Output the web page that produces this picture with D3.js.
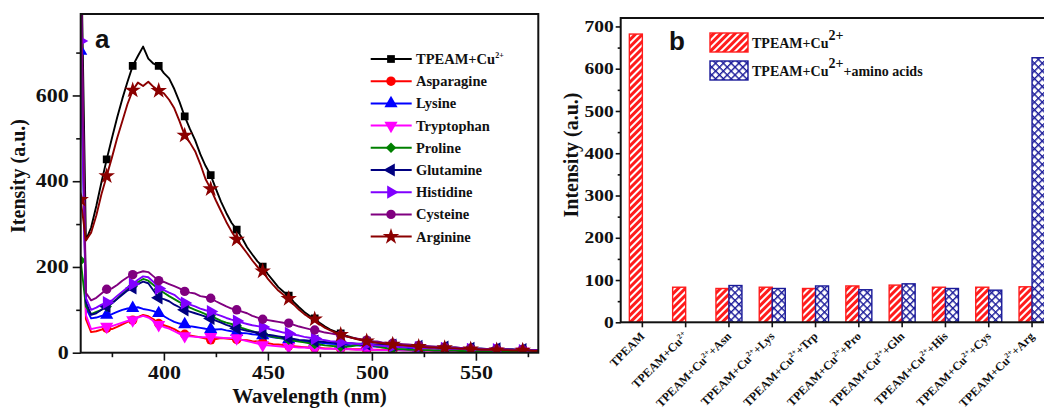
<!DOCTYPE html>
<html><head><meta charset="utf-8">
<script src="https://cdn.jsdelivr.net/npm/d3@7"></script>
<style>body{margin:0;background:#fff}svg{display:block}</style>
</head><body>
<svg id="chart" width="1044" height="412"></svg>
<script>
// ---------------- DATA: panel a (emission spectra) ----------------
const wavelengths = [360,362.5,365,367.5,370,372.5,375,377.5,380,382.5,
385,387.5,390,392.5,395,397.5,400,402.5,405,407.5,
410,412.5,415,417.5,420,422.5,425,427.5,430,432.5,
435,437.5,440,442.5,445,447.5,450,452.5,455,457.5,
460,462.5,465,467.5,470,472.5,475,477.5,480,482.5,
485,487.5,490,492.5,495,497.5,500,502.5,505,507.5,
510,512.5,515,517.5,520,522.5,525,527.5,530,532.5,
535,537.5,540,542.5,545,547.5,550,552.5,555,557.5,
560,562.5,565,567.5,570,572.5,575,577.5,580];
const tpeamCu = [1000,262,292,342,398,451,500,548,592,632,
669,692,714,686,674,669,652,640,615,585,
551,522,496,463,436,414,382,352,326,303,
287,268,246,229,213,201,183,168,153,142,
133,118,106,95,86,80,69,61,54,49,
45,40,36,33,30,28,26,24,22,21,
20,19,18,17,16,15,14,13,13,12,
12,11,10,10,9,9,8,8,8,7,
7,7,6,6,6,6,5,5,5];
const asparagine = [900,78,48,50,54,57,55,60,66,72,
76,83,88,85,78,68,64,60,55,48,
43,40,38,36,33,30,32,34,33,32,
31,30,29,27,26,24,22,20,19,18,
16,15,14,13,12,11,11,10,10,9,
9,9,8,8,8,7,7,7,7,6,
6,6,6,6,5,5,5,5,5,5,
4,4,4,4,4,4,4,4,3,3,
3,3,3,3,3,3,3,3,3];
const lysine = [704,105,80,82,86,88,90,95,100,103,
104,106,102,100,97,92,85,78,72,68,
66,62,60,58,56,55,54,55,52,50,
48,46,45,43,42,40,38,36,34,33,
31,30,28,27,25,24,23,22,21,20,
19,18,17,17,16,15,15,14,14,13,
13,12,12,11,11,11,10,10,10,9,
9,9,8,8,8,8,7,7,7,7,
6,6,6,6,6,5,5,5,5];
const tryptophan = [850,88,55,58,60,61,62,66,70,74,
76,82,86,82,74,65,60,56,50,44,
39,38,37,36,36,37,36,35,34,34,
34,30,27,24,21,18,17,16,15,14,
14,13,12,12,11,10,10,9,9,9,
8,8,8,7,7,7,7,6,6,6,
6,6,5,5,5,5,5,5,4,4,
4,4,4,4,4,4,4,3,3,3,
3,3,3,3,3,3,3,3,3];
const proline = [215,108,90,95,100,108,116,126,138,148,
155,165,172,168,158,148,140,132,125,118,
112,105,100,95,90,86,80,74,70,67,
63,58,54,50,47,44,40,37,35,33,
30,28,26,24,22,20,19,17,16,15,
14,14,15,17,19,20,18,15,12,10,
9,8,8,7,7,6,6,6,5,5,
5,5,5,4,4,4,4,4,4,4,
3,3,3,3,3,3,3,3,3];
const glutamine = [900,118,88,92,100,108,115,125,135,145,
151,160,166,162,145,128,125,120,112,106,
100,96,92,88,84,80,75,70,65,61,
57,54,51,49,47,45,42,40,38,36,
34,32,30,29,28,27,26,25,24,23,
23,22,22,21,21,20,20,19,19,18,
18,17,17,16,16,15,15,14,14,13,
13,12,12,11,11,10,10,10,9,9,
9,8,8,8,7,7,7,6,6];
const histidine = [727,128,100,105,112,117,122,132,142,152,
160,170,178,176,165,150,146,140,135,125,
116,112,108,103,99,96,90,86,81,77,
74,70,67,64,62,60,56,53,50,47,
45,42,40,37,35,33,31,29,27,26,
24,23,22,21,20,19,18,17,16,15,
15,14,13,13,12,12,11,11,10,10,
10,9,9,9,8,8,8,7,7,7,
7,6,6,6,6,5,5,5,5];
const cysteine = [900,140,122,128,138,148,150,158,168,176,
182,186,190,188,178,168,165,160,155,150,
143,140,138,132,130,127,120,114,108,103,
100,96,92,86,82,78,76,74,72,70,
69,65,61,58,55,53,50,47,45,43,
41,38,35,33,31,29,27,26,24,23,
22,21,20,19,18,17,16,15,14,14,
13,12,12,11,11,10,10,9,9,9,
8,8,8,7,7,7,6,6,6];
const arginine = [357,262,280,320,370,412,455,500,540,580,
612,630,622,632,620,611,605,590,570,540,
507,490,470,440,405,382,355,330,305,283,
264,248,232,215,200,190,172,158,145,135,
126,112,100,90,82,78,66,58,52,47,
42,38,35,32,29,27,25,23,22,20,
19,18,17,16,15,14,13,12,12,11,
11,10,10,9,9,8,8,7,7,7,
6,6,6,5,5,5,5,4,4];
const seriesNames = ["TPEAM+Cu^{2+}","Asparagine","Lysine","Tryptophan","Proline","Glutamine","Histidine","Cysteine","Arginine"];
const xTicksA = [400,450,500,550];
const xMinorA = [375,425,475,525,575];
const yTicksA = [0,200,400,600];
const yMinorA = [100,300,500,700];

// ---------------- DATA: panel b (bar chart) ----------------
const barCategories = ["TPEAM","TPEAM+Cu^{2+}","TPEAM+Cu^{2+}+Asn","TPEAM+Cu^{2+}+Lys","TPEAM+Cu^{2+}+Trp","TPEAM+Cu^{2+}+Pro","TPEAM+Cu^{2+}+Gln","TPEAM+Cu^{2+}+His","TPEAM+Cu^{2+}+Cys","TPEAM+Cu^{2+}+Arg"];
const barCu = [682,83,80,83,80,86,88,83,83,84];
const barAmino = [null,null,87,80,86,77,91,80,76,626];
const barLegend = ["TPEAM+Cu^{2+}","TPEAM+Cu^{2+}+amino acids"];
const yTicksB = [0,100,200,300,400,500,600,700];
const yMinorB = [50,150,250,350,450,550,650];

// ---------------- STYLES ----------------
const seriesColors = ["#000000","#ff0000","#0000ff","#ff00ff","#008000","#000080","#8000ff","#800080","#8b0000"];
const seriesSymbols = ["square","circle","up","down","diamond","left","right","circle","star"];
const SERIF = "'Liberation Serif','Times New Roman',serif";
const SANS = "'Liberation Sans',Arial,sans-serif";
const STRETCH = 1.22;

const svg = d3.select("#chart");
const defs = svg.append("defs");

function rich(text, str, fs, supFs, shift){
  const parts = str.split(/\^\{|\}/);
  let raised = false;
  parts.forEach((p,i)=>{
    if(p==="") return;
    const sup = i%2===1;
    let dy = 0;
    if(sup && !raised){dy=-shift; raised=true;}
    else if(!sup && raised){dy=shift; raised=false;}
    text.append("tspan").attr("dy",dy).style("font-size",(sup?supFs:fs)+"px").text(p);
  });
  return text;
}
function symPath(type){
  switch(type){
    case "square": return {d:d3.symbol(d3.symbolSquare,60)(),r:0};
    case "circle": return {d:d3.symbol(d3.symbolCircle,70)(),r:0};
    case "up": return {d:d3.symbol(d3.symbolTriangle,75)(),r:0};
    case "down": return {d:d3.symbol(d3.symbolTriangle,75)(),r:180};
    case "left": return {d:d3.symbol(d3.symbolTriangle,75)(),r:-90};
    case "right": return {d:d3.symbol(d3.symbolTriangle,75)(),r:90};
    case "diamond": return {d:d3.symbol(d3.symbolSquare,55)(),r:45};
    case "star": return {d:d3.symbol(d3.symbolStar,85)(),r:0};
  }
}
function styleTicks(g, fs, leftAxis){
  g.selectAll(".tick text").style("font-family",SERIF).style("font-weight","bold").style("font-size",fs+"px").attr("fill","#111");
  g.selectAll(".tick text").each(function(){
    const t = d3.select(this);
    if(leftAxis){ t.attr("x", +t.attr("x")/STRETCH); }
    t.attr("transform",`scale(${STRETCH},1)`);
  });
  g.selectAll(".tick line").attr("stroke","#111").attr("stroke-width",1.6);
  g.select(".domain").remove();
}

// ================= PANEL A =================
const A = {l:80.7, r:538.3, t:14, b:352.7};
const xA = d3.scaleLinear([360,580],[A.l,A.r]);
const yA = d3.scaleLinear([0,790],[A.b,A.t]);
defs.append("clipPath").attr("id","clipA").append("rect")
  .attr("x",A.l).attr("y",A.t).attr("width",A.r-A.l).attr("height",A.b-A.t);

const allSeries = [tpeamCu,asparagine,lysine,tryptophan,proline,glutamine,histidine,cysteine,arginine];
const plotA = svg.append("g").attr("clip-path","url(#clipA)");
const line = d3.line().x((d,i)=>xA(wavelengths[i])).y(d=>yA(d));
allSeries.forEach((vals,k)=>{
  const g = plotA.append("g");
  g.append("path").attr("d",line(vals)).attr("fill","none")
    .attr("stroke",seriesColors[k]).attr("stroke-width",1.9).attr("stroke-linejoin","round");
  const s = symPath(seriesSymbols[k]);
  g.selectAll("path.m").data(vals.map((v,i)=>({v,i})).filter(d=>d.i%5===0)).enter()
    .append("path").attr("class","m").attr("d",s.d)
    .attr("transform",d=>`translate(${xA(wavelengths[d.i])},${yA(d.v)}) rotate(${s.r})`)
    .attr("fill",seriesColors[k]);
});

// axes a
const gxA = svg.append("g").attr("transform",`translate(0,${A.b})`)
  .call(d3.axisBottom(xA).tickValues(xTicksA).tickSize(8).tickPadding(6).tickFormat(d3.format("d")));
styleTicks(gxA,18,false);
const gxAm = svg.append("g").attr("transform",`translate(0,${A.b})`)
  .call(d3.axisBottom(xA).tickValues(xMinorA).tickSize(4.5).tickFormat(""));
styleTicks(gxAm,18,false);
const gyA = svg.append("g").attr("transform",`translate(${A.l},0)`)
  .call(d3.axisLeft(yA).tickValues(yTicksA).tickSize(8).tickPadding(4).tickFormat(d3.format("d")));
styleTicks(gyA,18,true);
const gyAm = svg.append("g").attr("transform",`translate(${A.l},0)`)
  .call(d3.axisLeft(yA).tickValues(yMinorA).tickSize(4.5).tickFormat(""));
styleTicks(gyAm,18,true);
svg.append("rect").attr("x",A.l).attr("y",A.t).attr("width",A.r-A.l).attr("height",A.b-A.t)
  .attr("fill","none").attr("stroke","#111").attr("stroke-width",2);

svg.append("text").attr("x",(A.l+A.r)/2).attr("y",403).attr("text-anchor","middle")
  .style("font-family",SERIF).style("font-weight","bold").style("font-size","21px").attr("fill","#111")
  .text("Wavelength (nm)");
svg.append("text").attr("transform","translate(25,176) rotate(-90)").attr("text-anchor","middle")
  .style("font-family",SERIF).style("font-weight","bold").style("font-size","20px").attr("fill","#111")
  .text("Itensity (a.u.)");
svg.append("text").attr("x",95).attr("y",48).style("font-family",SANS).style("font-weight","bold")
  .style("font-size","26px").attr("fill","#111").text("a");

// legend a
seriesNames.forEach((n,k)=>{
  const y = 59 + 22.2*k;
  const g = svg.append("g");
  g.append("line").attr("x1",370.7).attr("x2",411.7).attr("y1",y).attr("y2",y)
    .attr("stroke",seriesColors[k]).attr("stroke-width",2);
  const s = symPath(seriesSymbols[k]);
  g.append("path").attr("d",s.d).attr("transform",`translate(391,${y}) rotate(${s.r})`).attr("fill",seriesColors[k]);
  const t = g.append("text").attr("x",416).attr("y",y+5).style("font-family",SERIF)
    .style("font-weight","bold").attr("fill","#111");
  rich(t,n,14.5,8,6);
});

// ================= PANEL B =================
const B = {l:620.7, r:620.7+433, t:18, b:322.3};
const xB = d3.scaleBand(barCategories,[B.l,B.r]).padding(0);
const yB = d3.scaleLinear([0,720],[B.b,B.t]);
const barW = 13;
const cx = c => xB(c)+xB.bandwidth()/2;

const pr = defs.append("pattern").attr("id","hatchRed").attr("patternUnits","userSpaceOnUse")
  .attr("width",5).attr("height",5).attr("patternTransform","rotate(45)");
pr.append("rect").attr("width",5).attr("height",5).attr("fill","#ff1c1c");
pr.append("rect").attr("x",0).attr("width",2).attr("height",5).attr("fill","#ffffff");
const pb = defs.append("pattern").attr("id","hatchBlue").attr("patternUnits","userSpaceOnUse")
  .attr("width",5.5).attr("height",5.5).attr("patternTransform","rotate(45)");
pb.append("rect").attr("width",5.5).attr("height",5.5).attr("fill","#ffffff");
pb.append("rect").attr("width",1.4).attr("height",5.5).attr("fill","#1a1a99");
pb.append("rect").attr("width",5.5).attr("height",1.4).attr("fill","#1a1a99");

svg.append("g").selectAll("rect").data(barCategories.map((c,i)=>({c,v:barCu[i]}))).enter()
  .append("rect").attr("x",d=>cx(d.c)-barW).attr("width",barW)
  .attr("y",d=>yB(d.v)).attr("height",d=>yB(0)-yB(d.v))
  .attr("fill","url(#hatchRed)").attr("stroke","#ff1c1c").attr("stroke-width",1.4);
svg.append("g").selectAll("rect").data(barCategories.map((c,i)=>({c,v:barAmino[i]})).filter(d=>d.v!==null)).enter()
  .append("rect").attr("x",d=>cx(d.c)).attr("width",barW)
  .attr("y",d=>yB(d.v)).attr("height",d=>yB(0)-yB(d.v))
  .attr("fill","url(#hatchBlue)").attr("stroke","#1a1a99").attr("stroke-width",1.4);

const gyB = svg.append("g").attr("transform",`translate(${B.l},0)`)
  .call(d3.axisLeft(yB).tickValues(yTicksB).tickSize(5).tickPadding(2).tickFormat(d3.format("d")));
styleTicks(gyB,16,true);
const gyBm = svg.append("g").attr("transform",`translate(${B.l},0)`)
  .call(d3.axisLeft(yB).tickValues(yMinorB).tickSize(3).tickFormat(""));
styleTicks(gyBm,16,true);
const gxB = svg.append("g").attr("transform",`translate(0,${B.b})`)
  .call(d3.axisBottom(xB).tickSize(5).tickFormat(""));
styleTicks(gxB,12,false);
svg.append("rect").attr("x",B.l).attr("y",B.t).attr("width",B.r-B.l).attr("height",B.b-B.t)
  .attr("fill","none").attr("stroke","#111").attr("stroke-width",2);

// category labels (rotated 45 degrees)
barCategories.forEach(c=>{
  const t = svg.append("text").attr("transform",`translate(${cx(c)+3},337) rotate(-45)`)
    .attr("text-anchor","end").style("font-family",SERIF).style("font-weight","bold").attr("fill","#111");
  rich(t,c,12,7.5,4.5);
});

svg.append("text").attr("transform","translate(578,155) rotate(-90)").attr("text-anchor","middle")
  .style("font-family",SERIF).style("font-weight","bold").style("font-size","20px").attr("fill","#111")
  .text("Intensity (a.u.)");
svg.append("text").attr("x",669).attr("y",50).style("font-family",SANS).style("font-weight","bold")
  .style("font-size","26px").attr("fill","#111").text("b");

// legend b
const legFills = ["url(#hatchRed)","url(#hatchBlue)"];
const legStroke = ["#ff1c1c","#1a1a99"];
barLegend.forEach((n,k)=>{
  const y = 33 + 28*k;
  svg.append("rect").attr("x",710).attr("y",y).attr("width",38).attr("height",19)
    .attr("fill",legFills[k]).attr("stroke",legStroke[k]).attr("stroke-width",1.4);
  const t = svg.append("text").attr("x",752).attr("y",y+15).style("font-family",SERIF)
    .style("font-weight","bold").attr("fill","#111");
  rich(t,n,14,14,8);
});
</script>
</body></html>
